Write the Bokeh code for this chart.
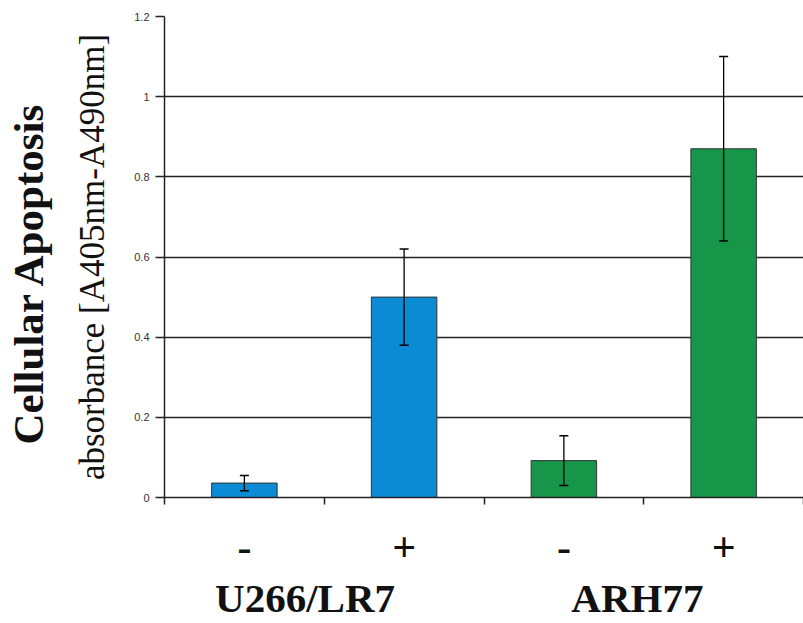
from bokeh.plotting import figure
from bokeh.models import (ColumnDataSource, Whisker, TeeHead, FixedTicker, Range1d,
                          LinearAxis)
from bokeh.embed import file_html
from bokeh.resources import INLINE

# ---- data ----
treatments = ["-", "+", "-", "+"]
cell_lines = ["U266/LR7", "ARH77"]
values = [0.036, 0.50, 0.092, 0.87]
errors = [0.019, 0.12, 0.062, 0.23]
colors = ["#0b8bd3", "#0b8bd3", "#17964a", "#17964a"]
y_ticks = [0, 0.2, 0.4, 0.6, 0.8, 1.0, 1.2]
y_tick_labels = ["0", "0.2", "0.4", "0.6", "0.8", "1", "1.2"]
y_title_1 = "Cellular Apoptosis"
y_title_2 = "absorbance [A405nm-A490nm]"

n = len(values)
xc = [i + 0.5 for i in range(n)]
group_x = [0.88, 2.96]
src = ColumnDataSource(dict(
    x=xc, top=values, color=colors,
    upper=[v + e for v, e in zip(values, errors)],
    lower=[v - e for v, e in zip(values, errors)],
))

p = figure(width=803, height=623, output_backend="svg", toolbar_location=None,
           x_range=Range1d(0, n), y_range=Range1d(0, 1.2),
           min_border_left=164, min_border_right=0, min_border_top=16, min_border_bottom=124)
p.background_fill_color = "white"
p.border_fill_color = "white"
p.outline_line_color = None

p.vbar(x="x", top="top", width=0.41, bottom=0, source=src, fill_color="color",
       line_color="#333333", line_width=1)

wh = Whisker(source=src, base="x", upper="upper", lower="lower", level="overlay",
             line_color="black", line_width=1.3,
             upper_head=TeeHead(size=9, line_color="black", line_width=1.5),
             lower_head=TeeHead(size=9, line_color="black", line_width=1.5))
p.add_layout(wh)

# y axis (ticks + second title line)
ya = p.yaxis[0]
ya.ticker = FixedTicker(ticks=y_ticks)
ya.major_label_overrides = {t: l for t, l in zip(y_ticks, y_tick_labels)}
ya.major_label_text_font = "Liberation Sans"
ya.major_label_text_font_size = "11px"
ya.major_label_text_color = "#333333"
ya.major_tick_out = 9
ya.major_tick_in = 0
ya.minor_tick_out = 0
ya.minor_tick_in = 0
ya.axis_line_color = "#222222"
ya.axis_line_width = 1.5
ya.major_tick_line_width = 1.5
ya.major_tick_line_color = "#222222"
ya.major_label_standoff = 6
ya.axis_label = y_title_2
ya.axis_label_text_font = "Liberation Serif"
ya.axis_label_text_font_style = "normal"
ya.axis_label_text_font_size = "35px"
ya.axis_label_text_color = "#111111"
ya.axis_label_standoff = 19

# outer y axis: first title line only
ya2 = LinearAxis(ticker=FixedTicker(ticks=[]), axis_line_color=None,
                 major_tick_line_color=None, minor_tick_line_color=None,
                 axis_label=y_title_1 + "\u00a0\u00a0\u00a0",
                 axis_label_text_font="Liberation Serif",
                 axis_label_text_font_style="bold", axis_label_text_font_size="43px",
                 axis_label_text_color="#111111", axis_label_standoff=19)
p.add_layout(ya2, "left")

# x axis: boundary ticks only
xa = p.xaxis[0]
xa.ticker = FixedTicker(ticks=list(range(n + 1)))
xa.major_label_text_alpha = 0
xa.major_label_text_font_size = "1px"
xa.major_label_standoff = 0
xa.major_tick_out = 7
xa.major_tick_in = 0
xa.minor_tick_out = 0
xa.axis_line_color = "#222222"
xa.axis_line_width = 1.5
xa.major_tick_line_width = 1.5
xa.major_tick_line_color = "#222222"

# treatment labels axis
xa2 = LinearAxis(ticker=FixedTicker(ticks=xc),
                 major_label_overrides={x: t for x, t in zip(xc, treatments)},
                 axis_line_color=None, major_tick_line_color=None, minor_tick_line_color=None,
                 major_label_standoff=22, major_label_text_font="Liberation Serif",
                 major_label_text_font_style="bold",
                 major_label_text_font_size="42px", major_label_text_color="#111111")
p.add_layout(xa2, "below")

# cell line labels axis
xa3 = LinearAxis(ticker=FixedTicker(ticks=group_x),
                 major_label_overrides={x: t for x, t in zip(group_x, cell_lines)},
                 axis_line_color=None, major_tick_line_color=None, minor_tick_line_color=None,
                 major_label_standoff=5, major_label_text_font="Liberation Serif",
                 major_label_text_font_style="bold",
                 major_label_text_font_size="41px", major_label_text_color="#111111")
p.add_layout(xa3, "below")

p.xgrid.grid_line_color = None
p.ygrid.ticker = FixedTicker(ticks=y_ticks)
p.ygrid.grid_line_color = "#222222"
p.ygrid.grid_line_width = 1.5

open("out.html", "w").write(file_html(p, INLINE))
